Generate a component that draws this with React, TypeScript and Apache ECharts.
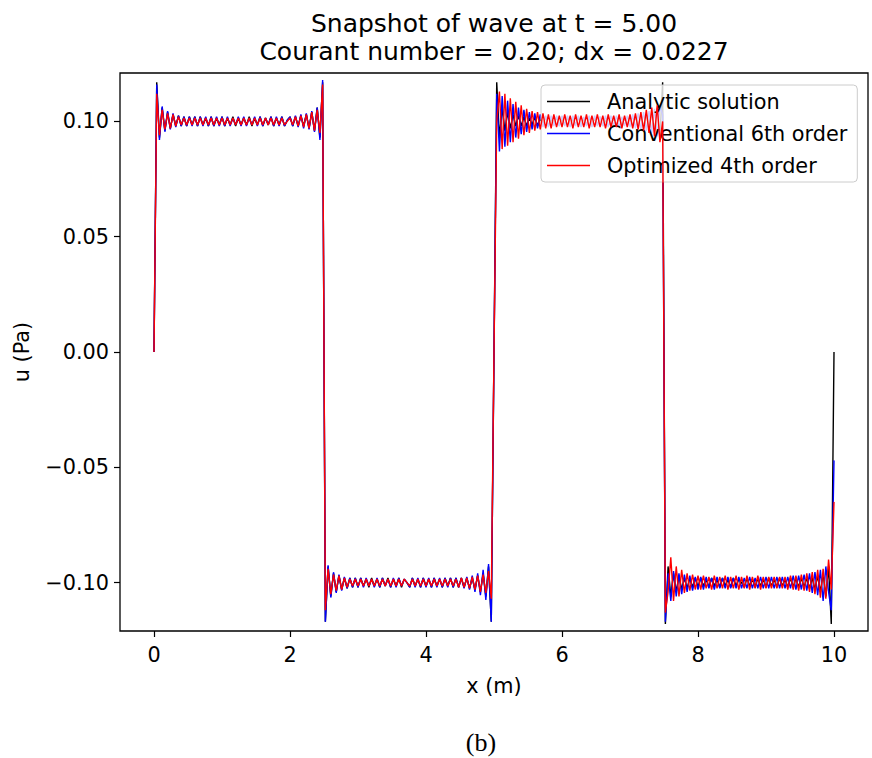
import React, { useEffect, useRef } from "react";
import * as echarts from "echarts";

const X_START = 0;
const X_STEP = 0.04;

// u values in mPa, one row per metre (25 samples), last value at x = 10
const analytic: number[] = [
  0, 117, 93, 106, 96, 104, 97, 103, 98, 102.5, 98, 102, 98, 102, 98.5, 102, 98, 102, 98.5, 101.5, 98, 102, 98, 101.5, 98.5,
  102, 98, 101.5, 98.5, 102, 98, 101.5, 98.5, 101.5, 98.5, 102, 98, 101.5, 98.5, 102, 98, 101.5, 98.5, 102, 98, 101.5, 98.5, 102, 98, 100.5,
  102, 98, 102, 98, 102.5, 98, 103, 97, 104, 96, 106, 93, 117, -117, -93, -106, -96, -104, -97, -103, -98, -102.5, -98, -102, -98,
  -102, -98, -101.5, -98.5, -102, -98, -101.5, -98.5, -102, -98, -101.5, -98, -102, -98.5, -101.5, -98, -102, -98.5, -100, -102, -98, -101.5, -98.5, -102, -98,
  -101.5, -98.5, -102, -98, -101.5, -98.5, -102, -98, -101.5, -98, -102, -98, -102, -98, -102, -98, -102.5, -98, -103, -97, -104, -96, -106, -93, -117,
  0, 117, 93, 106, 96, 104, 97, 103, 98, 102.5, 98, 102, 98, 101.5, 98.5, 102, 98, 101.5, 98.5, 102, 98, 101.5, 98.5, 102, 98,
  101.5, 98.5, 102, 98, 101.5, 98.5, 102, 98, 101.5, 98.5, 102, 98, 101.5, 98.5, 102, 98, 100, 102, 98, 101.5, 98.5, 102, 98, 101.5, 98.5,
  102, 98, 102, 98, 102.5, 98, 103, 97, 104, 96, 106, 93, 117, -118, -93, -106, -96, -104, -97, -103, -98, -102.5, -98, -102, -98,
  -102, -98, -101.5, -98.5, -102, -98, -101.5, -98.5, -102, -98, -101.5, -98.5, -102, -98, -101.5, -98.5, -100, -102, -98, -101.5, -98.5, -102, -98, -101.5, -98.5,
  -102, -98, -101.5, -98.5, -102, -98, -101.5, -98.5, -102, -98, -102, -98, -102, -98, -102, -98, -102.5, -98, -103, -97, -104, -96, -106, -93, -118,
  0,
];

const conventional6th: number[] = [
  0, 116, 92, 106.5, 95.5, 104.5, 96.5, 103.5, 97.5, 102.5, 98, 102, 98, 102, 98, 102, 98, 102, 98, 102, 98, 102, 98, 102, 98,
  102, 98, 102, 98, 101.5, 98.5, 102, 98, 102, 98, 101.5, 98.5, 102, 98, 102, 98, 101.5, 98.5, 102, 98, 102, 98, 102, 98, 100.5,
  102, 98, 102.5, 97.5, 103, 97, 103.5, 96.5, 104.5, 95.5, 106, 92, 118, -117, -92.5, -106.5, -95.5, -104.5, -96.5, -103.5, -97.5, -102.5, -98, -102, -98,
  -102, -98, -102, -98, -101.5, -98.5, -102, -98, -102, -98, -101.5, -98.5, -102, -98, -102, -98, -101.5, -98.5, -100, -102, -98, -102, -98, -102, -98,
  -102, -98, -102, -98, -102, -98, -102, -98, -102, -98, -102, -98, -102, -98, -102.5, -97.5, -103, -97, -104, -96, -105.5, -94.5, -107.5, -92, -117,
  0, 112, 87, 111, 89, 109, 91, 107.5, 93, 106, 94.5, 105, 95.5, 104, 96.5, 103.5, 97, 103, 97.5, 102.5, 97.5, 102.5, 98, 102.5, 98,
  102.5, 98, 102.5, 97.5, 102.5, 98, 102.5, 97.5, 102, 98, 102.5, 97.5, 102.5, 98, 102, 98, 102.5, 97.5, 102.5, 98, 102.5, 97.5, 102, 98, 102.5,
  97.5, 103, 97, 103.5, 96.5, 104, 96, 104.5, 95, 105.5, 93.5, 106.5, 103, -117, -96, -108, -95, -106, -96, -105, -96.5, -104, -97, -103.5, -97.5,
  -103, -97.5, -103, -97.5, -102.5, -98, -103, -97.5, -102.5, -98, -102.5, -97.5, -102.5, -98, -102.5, -97.5, -102.5, -98, -102.5, -97.5, -102.5, -98, -102.5, -97.5, -102.5,
  -97.5, -102.5, -97.5, -102.5, -97.5, -102.5, -97.5, -102.5, -97.5, -102.5, -97, -103, -97, -103, -96.5, -103.5, -96, -104.5, -95.5, -105.5, -94.5, -108, -93, -104, -112,
  -47,
];

const optimized4th: number[] = [
  0, 112, 94, 105, 96.5, 103.5, 97, 103, 98, 102, 98.5, 101.5, 98.5, 101.5, 98.5, 101.5, 98.5, 101.5, 98.5, 101.5, 98.5, 101.5, 98.5, 101.5, 98.5,
  101.5, 98.5, 101.5, 98.5, 101.5, 98.5, 101.5, 98.5, 101.5, 98.5, 101.5, 98.5, 101.5, 98.5, 101.5, 98.5, 101.5, 98.5, 101.5, 98.5, 101.5, 98.5, 101.5, 98.5, 100,
  101.5, 98.5, 102, 98, 102.5, 97.5, 103, 97, 104, 96, 105, 95, 116, -112, -94, -105, -96.5, -103.5, -97, -103, -98, -102, -98.5, -101.5, -98.5,
  -101.5, -98.5, -101.5, -98.5, -101.5, -98.5, -101.5, -98.5, -101.5, -98.5, -101.5, -98.5, -101.5, -98.5, -101.5, -98.5, -101.5, -98.5, -100, -101.5, -98.5, -101.5, -98.5, -101.5, -98.5,
  -101.5, -98.5, -101.5, -98.5, -101.5, -98.5, -101.5, -98.5, -101.5, -98.5, -101.5, -98.5, -102, -98, -102, -98, -102.5, -97.5, -103, -97, -104, -96.5, -104.5, -95, -107,
  0, 100, 113, 88, 112, 89.5, 110, 91, 108.5, 92.5, 107, 94, 105.5, 95, 104.5, 96, 104, 96.5, 103.5, 97, 103, 97, 103, 97.5, 102.5,
  97.5, 103, 97.5, 102.5, 97, 103, 97.5, 102.5, 97.5, 103, 97, 102.5, 97.5, 103, 97.5, 102.5, 97, 103, 97.5, 102.5, 97.5, 103, 97, 102.5, 97.5,
  103, 97, 103.5, 96.5, 104, 96, 105, 95, 106, 93.5, 107, 91, 100, -113, -104, -89, -108, -93, -106, -94.5, -104.5, -96, -103.5, -96.5, -103,
  -97, -103, -97, -102.5, -97.5, -103, -97, -102.5, -97.5, -102.5, -97, -103, -97.5, -102.5, -97, -103, -97.5, -102.5, -97, -103, -97.5, -102.5, -97, -103, -97.5,
  -102.5, -97.5, -102.5, -97.5, -102.5, -97.5, -102.5, -97.5, -103, -97, -103, -97, -103.5, -96.5, -103.5, -96, -104, -95.5, -105, -94.5, -106.5, -94, -107, -90, -103,
  -65,
];

const seriesNames = ["Analytic solution", "Conventional 6th order", "Optimized 4th order"];
const seriesColors = ["#000000", "#0000ff", "#ff0000"];
const xTicks = [0, 2, 4, 6, 8, 10];
const yTicks = [-0.1, -0.05, 0, 0.05, 0.1];
const titleLines = ["Snapshot of wave at t = 5.00", "Courant number = 0.20; dx = 0.0227"];
const xLabel = "x (m)";
const yLabel = "u (Pa)";
const caption = "(b)";

const FONT = "DejaVu Sans";

function toPoints(vals: number[]) {
  return vals.map((v, i) => [+(X_START + i * X_STEP).toFixed(2), v / 1000]);
}

export default function App() {
  const ref = useRef<HTMLDivElement>(null);
  useEffect(() => {
    if (!ref.current) return;
    const chart = echarts.init(ref.current, undefined, { renderer: "svg" });
    const data = [analytic, conventional6th, optimized4th];
    chart.setOption({
      animation: false,
      backgroundColor: "#ffffff",
      grid: {
        left: 120,
        right: 4,
        top: 73,
        bottom: 127,
        show: true,
        borderColor: "#000000",
        borderWidth: 1.3,
        backgroundColor: "transparent",
      },
      xAxis: {
        type: "value",
        min: -0.5,
        max: 10.5,
        axisLine: { show: false, onZero: false },
        splitLine: { show: false },
        axisTick: {
          show: true,
          inside: false,
          length: 6,
          lineStyle: { color: "#000", width: 1.2 },
          customValues: xTicks,
        },
        axisLabel: {
          customValues: xTicks,
          margin: 13,
          fontSize: 20.8,
          fontFamily: FONT,
          color: "#000",
          formatter: (v: number) => String(v),
        },
      },
      yAxis: {
        type: "value",
        min: -0.121,
        max: 0.121,
        axisLine: { show: false, onZero: false },
        splitLine: { show: false },
        axisTick: {
          show: true,
          inside: false,
          length: 6,
          lineStyle: { color: "#000", width: 1.2 },
          customValues: yTicks,
        },
        axisLabel: {
          customValues: yTicks,
          margin: 11,
          fontSize: 20.8,
          fontFamily: FONT,
          color: "#000",
          formatter: (v: number) => v.toFixed(2).replace("-", "\u2212"),
        },
      },
      legend: {
        orient: "vertical",
        left: 541,
        top: 85,
        padding: [6, 10, 6, 6],
        itemGap: 11,
        itemWidth: 43,
        itemHeight: 1.5,
        icon: "rect",
        backgroundColor: "rgba(255,255,255,0.8)",
        borderColor: "#cccccc",
        borderWidth: 1,
        borderRadius: 4,
        textStyle: {
          fontSize: 20.8,
          fontFamily: FONT,
          color: "#000",
          padding: [0, 0, 0, 12],
        },
        data: seriesNames,
      },
      graphic: [
        {
          type: "text",
          x: 494,
          y: 23,
          style: { text: titleLines[0], fontSize: 25, fontFamily: FONT, fill: "#000", align: "center", verticalAlign: "middle" },
        },
        {
          type: "text",
          x: 494,
          y: 51,
          style: { text: titleLines[1], fontSize: 25, fontFamily: FONT, fill: "#000", align: "center", verticalAlign: "middle" },
        },
        {
          type: "text",
          x: 494,
          y: 686,
          style: { text: xLabel, fontSize: 20.8, fontFamily: FONT, fill: "#000", align: "center", verticalAlign: "middle" },
        },
        {
          type: "text",
          x: 22,
          y: 352,
          rotation: Math.PI / 2,
          style: { text: yLabel, fontSize: 20.8, fontFamily: FONT, fill: "#000", align: "center", verticalAlign: "middle" },
        },
        {
          type: "text",
          x: 481,
          y: 742,
          style: { text: caption, fontSize: 26, fontFamily: "Liberation Serif", fill: "#000", align: "center", verticalAlign: "middle" },
        },
      ],
      series: data.map((vals, k) => ({
        name: seriesNames[k],
        type: "line",
        data: toPoints(vals),
        symbol: "none",
        showSymbol: false,
        lineStyle: { color: seriesColors[k], width: 1.4 },
        itemStyle: { color: seriesColors[k] },
        z: 2 + k,
      })),
    });
    return () => chart.dispose();
  }, []);
  return <div ref={ref} style={{ width: 872, height: 758, position: "absolute", left: 0, top: 0 }} />;
}
